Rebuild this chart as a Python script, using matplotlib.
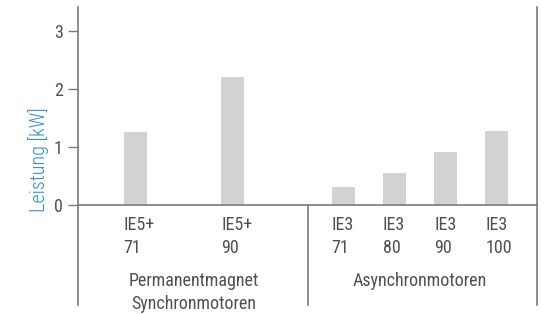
import matplotlib.pyplot as plt

# Data
motor_types = ["IE5+\n71", "IE5+\n90", "IE3\n71", "IE3\n80", "IE3\n90", "IE3\n100"]
leistung_kw = [1.25, 2.2, 0.31, 0.55, 0.92, 1.28]
groups = ["Permanentmagnet\nSynchronmotoren", "Asynchronmotoren"]

x_pos = [1.12, 3.03, 5.20, 6.20, 7.21, 8.21]
group_x = [2.26, 6.7]
divider_x = 4.51

plt.rcParams["font.family"] = ["Roboto Condensed", "DejaVu Sans"]
line_col = "#7a7a7e"
text_col = "#505050"

fig = plt.figure(figsize=(5.48, 3.14), dpi=100)
ax = fig.add_axes([78 / 548, 1 - 205 / 314, (537 - 78) / 548, (205 - 7) / 314])

bar_w = 0.45
ax.bar(x_pos, leistung_kw, width=bar_w, color="#d1d2d4", zorder=1)

ax.set_xlim(0, 9.0)
ax.set_ylim(0, 3.41)
ax.set_yticks([0, 1, 2, 3])
ax.set_yticklabels(["0", "1", "2", "3"], fontsize=13, color=text_col)
ax.tick_params(axis="y", length=7, width=1, color=line_col, pad=4)
ax.set_xticks([])

for s in ["left", "right", "bottom"]:
    ax.spines[s].set_color(line_col)
    ax.spines[s].set_linewidth(1.2)
ax.spines["top"].set_visible(False)

# lines continuing below the baseline
trans = ax.get_xaxis_transform()
ybot = -(305 - 205) / (205 - 7)
for xv in [0, divider_x, 9.0]:
    ax.plot([xv, xv], [0, ybot], color=line_col, lw=1.2, transform=trans, clip_on=False)

# tick labels, left aligned with each bar
for xv, lab in zip(x_pos, motor_types):
    ax.text(xv - bar_w / 2, -0.055, lab, transform=trans, ha="left", va="top",
            fontsize=13, color=text_col, linespacing=1.38)

for xv, lab in zip(group_x, groups):
    ax.text(xv, -0.34, lab, transform=trans, ha="center", va="top",
            fontsize=13, color=text_col, linespacing=1.3)

fig.text(39 / 548, 1 - 160 / 314, "Leistung [kW]", rotation=90, ha="center", va="center",
         fontsize=14.5, color="#2b8fd1", fontweight="light")

plt.savefig("out.png", dpi=100)
